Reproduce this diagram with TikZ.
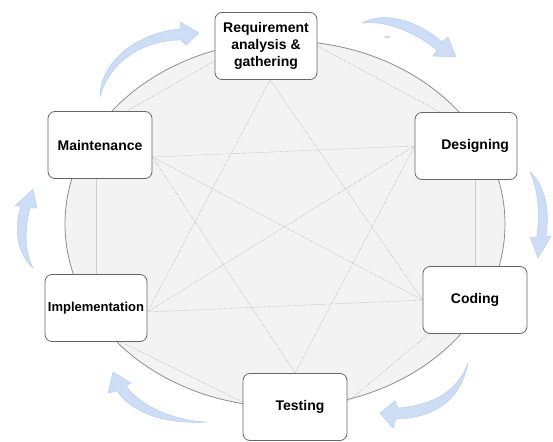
\documentclass[tikz,border=0pt]{standalone}
\usepackage{fontspec}
\setmainfont{Liberation Sans}
\definecolor{lightblue}{HTML}{CCDDF5}
\definecolor{blueedge}{HTML}{B3CBEC}
\definecolor{ringfill}{HTML}{F3F3F3}

\begin{document}
\begin{tikzpicture}[x=1pt,y=-1pt]
                        \tikzstyle{phase}=[draw=gray!80!black, line width=0.8pt, fill=white, rounded corners=7pt,
                            minimum width=102pt, minimum height=67pt, align=center, inner sep=2pt,
                            font=\fontsize{14}{17}\selectfont\bfseries]
                        \tikzstyle{link}=[gray!85, line width=0.45pt, densely dotted]
                        \tikzstyle{plainlink}=[gray!40, line width=0.5pt]
                        \tikzstyle{flow}=[fill=lightblue, draw=blueedge, line width=0.4pt]
                        \useasboundingbox (0,0) rectangle (553,441);
                        \draw[fill=ringfill, draw=gray!90, line width=0.8pt] (285,224) ellipse [x radius=220pt, y radius=183pt];
                        \draw[flow] (100,97) .. controls (100,60) and (140,32) .. (180,29) -- (180,22) -- (199,33)
                            -- (186,45) -- (181,40) .. controls (145,40) and (110,60) .. (100,97) -- cycle;
                        \draw[flow] (362,23) .. controls (385,10) and (420,22) .. (442,42) -- (448,37) -- (456,57)
                            -- (433,56) -- (437,50) .. controls (415,32) and (385,20) .. (362,23) -- cycle;
                        \draw[flow] (530,172) .. controls (545,185) and (550,210) .. (546,236) -- (551,236) -- (538,258)
                            -- (530,237) -- (537,237) .. controls (540,210) and (538,190) .. (530,172) -- cycle;
                        \draw[flow] (468,363) .. controls (462,395) and (440,418) .. (396,419) -- (393,428) -- (380,413)
                            -- (395,401) -- (398,408) .. controls (435,405) and (458,390) .. (468,363) -- cycle;
                        \draw[flow] (207,422) .. controls (160,425) and (130,410) .. (117,391) -- (108,393) -- (113,372)
                            -- (131,383) -- (126,386) .. controls (140,405) and (170,420) .. (207,422) -- cycle;
                        \draw[flow] (33,268) .. controls (16,252) and (14,228) .. (21,206) -- (15,206) -- (33,189)
                            -- (37,208) -- (30,208) .. controls (24,230) and (25,252) .. (33,268) -- cycle;
                        \node[text=gray, font=\fontsize{3}{3}\selectfont] (tag) at (387,37) {Text};
                        \node[phase] (req) at (266,46) {Requirement\\analysis \&\\gathering};
                        \node[phase, text width=86pt, align=right, inner xsep=8pt] (des) at (466,146) {Designing};
                        \node[phase, minimum width=104pt] (cod) at (475,300) {Coding};
                        \node[phase, minimum width=104pt] (tst) at (295,407) {\hspace{10pt}Testing};
                        \node[phase, font=\fontsize{13}{16}\selectfont\bfseries] (imp) at (96,308) {Implementation};
                        \node[phase, minimum width=104pt] (mnt) at (100,145) {Maintenance};
                        \draw[link] (req.east) -- ([xshift=-26pt]des.north);
                        \draw[plainlink] (des.south -| cod.north) -- (cod.north);
                        \draw[link] ([xshift=6pt]cod.south west) -- ([yshift=5pt]tst.east);
                        \draw[link] ([yshift=5pt]tst.west) -- ([xshift=25pt]imp.south);
                        \draw[plainlink] (mnt.south -| imp.north) -- (imp.north);
                        \draw[link] ([xshift=27pt]mnt.north) -- ([yshift=-15pt]req.west);
                        \draw[link] ([yshift=-12pt]mnt.east) -- (des.west);
                        \draw[link] ([yshift=-12pt]mnt.east) -- (cod.west);
                        \draw[link] ([yshift=-12pt]mnt.east) -- (tst.north);
                        \draw[link] ([yshift=-4pt]imp.east) -- (des.west);
                        \draw[link] ([yshift=-4pt]imp.east) -- (cod.west);
                        \draw[link] ([yshift=-4pt]imp.east) -- ([xshift=4pt]req.south);
                        \draw[link] ([xshift=4pt]req.south) -- (cod.west);
                        \draw[link] (tst.north) -- (des.west);
                    \end{tikzpicture}
\end{document}
